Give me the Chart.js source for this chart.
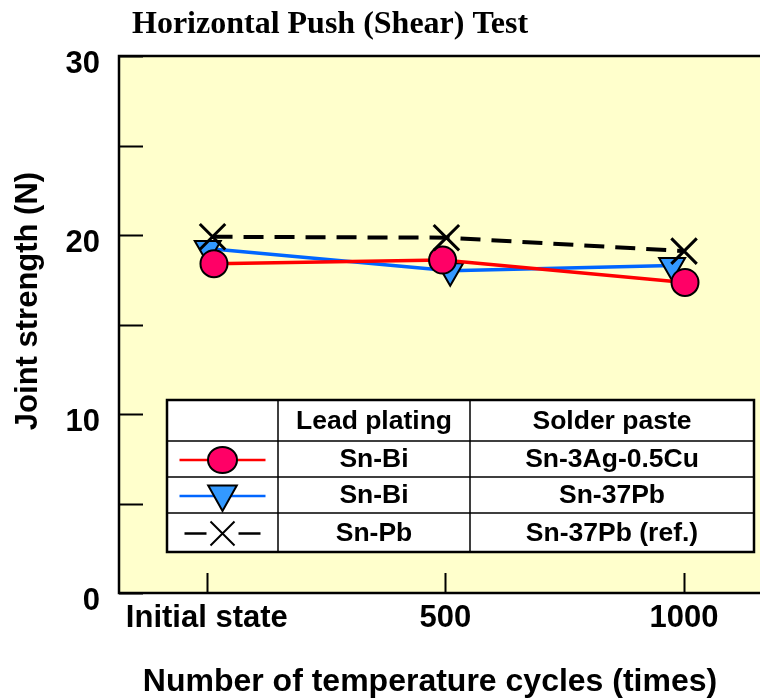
<!DOCTYPE html>
<html>
<head>
<meta charset="utf-8">
<script src="https://cdn.jsdelivr.net/npm/chart.js@4/dist/chart.umd.min.js"></script>
<style>
  body { margin: 0; background: #fff; }
  #wrap { width: 760px; height: 699px; overflow: hidden; }
</style>
</head>
<body>
<div id="wrap"><canvas id="c" width="790" height="699"></canvas></div>
<script>
// x tick positions and labels (temperature cycles)
const xTickValues = [0, 500, 1000];
const xTickLabels = ['Initial state', '500', '1000'];

// series: x positions as plotted, joint strength (N)
const snBiSac = [18.4, 18.6, 17.35];
const snBiSacX = [15, 494, 1002];
const snBiPb = [19.25, 18.0, 18.3];
const snBiPbX = [2, 510, 975];
const snPbRef = [19.9, 19.85, 19.1];
const snPbRefX = [12, 502, 1000];

// legend table rows
const tableHeader = ['Lead plating', 'Solder paste'];
const tablePlating = ['Sn-Bi', 'Sn-Bi', 'Sn-Pb'];
const tablePaste = ['Sn-3Ag-0.5Cu', 'Sn-37Pb', 'Sn-37Pb (ref.)'];

const SANS = '"Liberation Sans", Arial, sans-serif';

function pts(xs, ys) {
  return ys.map((y, i) => ({ x: xs[i], y }));
}

function marker(ctx, style, x, y, r) {
  ctx.save();
  ctx.lineWidth = 2;
  ctx.strokeStyle = '#000';
  if (style === 'circle') {
    ctx.fillStyle = '#ff0066';
    ctx.beginPath();
    ctx.ellipse(x, y, r + 1.5, r, 0, 0, Math.PI * 2);
    ctx.fill();
    ctx.stroke();
  } else if (style === 'triangle') {
    ctx.fillStyle = '#3399ff';
    ctx.beginPath();
    ctx.moveTo(x - r * 1.1, y - r * 0.8);
    ctx.lineTo(x + r * 1.1, y - r * 0.8);
    ctx.lineTo(x, y + r * 1.15);
    ctx.closePath();
    ctx.fill();
    ctx.stroke();
  } else {
    ctx.beginPath();
    ctx.moveTo(x - r, y - r); ctx.lineTo(x + r, y + r);
    ctx.moveTo(x - r, y + r); ctx.lineTo(x + r, y - r);
    ctx.stroke();
  }
  ctx.restore();
}

const framePlugin = {
  id: 'frame',
  beforeDraw(chart) {
    const { ctx, chartArea: a } = chart;
    ctx.save();
    ctx.fillStyle = '#ffffcc';
    ctx.fillRect(a.left, a.top, a.right - a.left, a.bottom - a.top);
    ctx.restore();
  },
  beforeDatasetsDraw(chart) {
    const { ctx, chartArea: a, scales } = chart;
    ctx.save();
    ctx.strokeStyle = '#000';
    ctx.lineWidth = 2;
    ctx.beginPath();
    scales.y.ticks.forEach((t) => {
      const y = Math.round(scales.y.getPixelForValue(t.value)) + 0.5;
      ctx.moveTo(a.left, y); ctx.lineTo(a.left + 24, y);
    });
    xTickValues.forEach((v) => {
      const x = Math.round(scales.x.getPixelForValue(v)) + 0.5;
      ctx.moveTo(x, a.bottom); ctx.lineTo(x, a.bottom - 20);
    });
    ctx.stroke();
    ctx.lineWidth = 2.5;
    ctx.beginPath();
    ctx.moveTo(a.right + 20, a.top);
    ctx.lineTo(a.left, a.top);
    ctx.lineTo(a.left, a.bottom);
    ctx.lineTo(a.right + 20, a.bottom);
    ctx.stroke();
    ctx.restore();
  },
  afterDraw(chart) {
    const { ctx } = chart;
    ctx.save();
    ctx.fillStyle = '#000';
    ctx.textBaseline = 'middle';
    // title
    ctx.font = 'bold 32px "Liberation Serif", "Times New Roman", serif';
    ctx.textAlign = 'left';
    ctx.fillText('Horizontal Push (Shear) Test', 132, 25);

    // axis titles
    ctx.font = 'bold 32px ' + SANS;
    ctx.textAlign = 'center';
    ctx.fillText('Number of temperature cycles (times)', 430, 682);
    ctx.font = 'bold 31px ' + SANS;
    ctx.save();
    ctx.translate(28, 301);
    ctx.rotate(-Math.PI / 2);
    ctx.fillText('Joint strength (N)', 0, 0);
    ctx.restore();

    // legend table
    const L = 167, R = 754, T = 400, B = 552;
    const cols = [L, 278, 470, R];
    const rows = [T, 441, 477, 513, B];
    ctx.fillStyle = '#fff';
    ctx.fillRect(L, T, R - L, B - T);
    ctx.strokeStyle = '#000';
    ctx.lineWidth = 1.5;
    ctx.beginPath();
    [1, 2].forEach((i) => { ctx.moveTo(cols[i], T); ctx.lineTo(cols[i], B); });
    [1, 2, 3].forEach((i) => { ctx.moveTo(L, rows[i]); ctx.lineTo(R, rows[i]); });
    ctx.stroke();
    ctx.lineWidth = 2.5;
    ctx.strokeRect(L, T, R - L, B - T);

    ctx.fillStyle = '#000';
    ctx.font = 'bold 26.5px ' + SANS;
    ctx.textAlign = 'center';
    const mid = (a, b) => (a + b) / 2;
    ctx.fillText(tableHeader[0], mid(cols[1], cols[2]), mid(rows[0], rows[1]) + 1);
    ctx.fillText(tableHeader[1], mid(cols[2], cols[3]), mid(rows[0], rows[1]) + 1);
    chart.data.datasets.forEach((ds, i) => {
      const cy = mid(rows[i + 1], rows[i + 2]) + 1;
      ctx.fillStyle = '#000';
      ctx.fillText(tablePlating[i], mid(cols[1], cols[2]), cy);
      ctx.fillText(tablePaste[i], mid(cols[2], cols[3]), cy);
      const cx = mid(cols[0], cols[1]);
      ctx.save();
      ctx.strokeStyle = ds.borderColor;
      ctx.lineWidth = 2.5;
      ctx.beginPath();
      if (ds.markerKind === 'cross') {
        ctx.moveTo(cx - 38, cy); ctx.lineTo(cx - 16, cy);
        ctx.moveTo(cx + 16, cy); ctx.lineTo(cx + 38, cy);
      } else {
        ctx.moveTo(cx - 43, cy); ctx.lineTo(cx + 43, cy);
      }
      ctx.stroke();
      ctx.restore();
      marker(ctx, ds.markerKind, cx, cy, ds.markerKind === 'cross' ? 12 : 13);
    });
    ctx.restore();
  },
};

new Chart(document.getElementById('c'), {
  type: 'line',
  data: {
    datasets: [
      {
        label: 'Sn-Bi / Sn-3Ag-0.5Cu', data: pts(snBiSacX, snBiSac), markerKind: 'circle',
        borderColor: '#ff0000', borderWidth: 3.5, pointStyle: 'circle', pointRadius: 13.5,
        pointBackgroundColor: '#ff0066', pointBorderColor: '#000', pointBorderWidth: 2, order: 2,
      },
      {
        label: 'Sn-Bi / Sn-37Pb', data: pts(snBiPbX, snBiPb), markerKind: 'triangle',
        borderColor: '#0066ff', borderWidth: 3.5, pointStyle: 'triangle', pointRotation: 180, pointRadius: 15,
        pointBackgroundColor: '#3399ff', pointBorderColor: '#000', pointBorderWidth: 2, order: 3,
      },
      {
        label: 'Sn-Pb / Sn-37Pb (ref.)', data: pts(snPbRefX, snPbRef), markerKind: 'cross',
        borderColor: '#000', borderWidth: 4, borderDash: [20, 11], pointStyle: 'crossRot', pointRadius: 18,
        pointBorderColor: '#000', pointBorderWidth: 3, order: 1,
      },
    ],
  },
  options: {
    responsive: false,
    animation: false,
    events: [],
    layout: { padding: { top: 56, left: 0, right: 0, bottom: 0 } },
    plugins: { legend: { display: false }, tooltip: { enabled: false }, title: { display: false } },
    scales: {
      x: {
        type: 'linear', min: -184, max: 1178,
        afterBuildTicks: (s) => { s.ticks = xTickValues.map((v) => ({ value: v })); },
        afterFit: (s) => { s.height = 106; },
        grid: { display: false, drawTicks: false },
        border: { display: false },
        ticks: {
          padding: 7, color: '#000', autoSkip: false, maxRotation: 0,
          font: { family: SANS, size: 31, weight: 'bold' },
          callback: (v) => xTickLabels[xTickValues.indexOf(v)],
        },
      },
      y: {
        min: 0, max: 30,
        afterBuildTicks: (s) => { s.ticks = [0, 5, 10, 15, 20, 25, 30].map((v) => ({ value: v })); },
        afterFit: (s) => { s.width = 119; },
        grid: { display: false, drawTicks: false },
        border: { display: false },
        ticks: {
          padding: 19, color: '#000', labelOffset: 8,
          font: { family: SANS, size: 31, weight: 'bold' },
          callback: (v) => (v % 10 === 0 ? String(v) : ''),
        },
      },
    },
  },
  plugins: [framePlugin],
});
</script>
</body>
</html>
